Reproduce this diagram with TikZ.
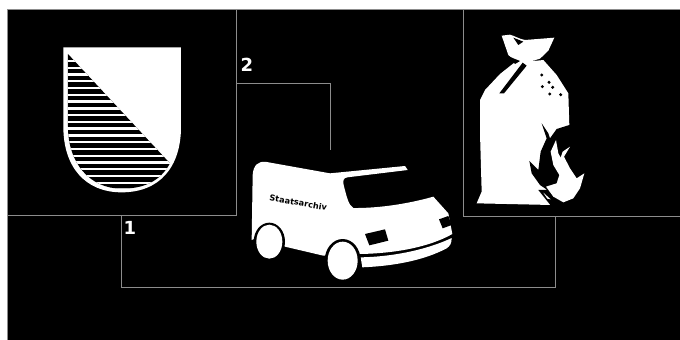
\documentclass[tikz,border=0pt]{standalone}
\usepackage{fontspec}
\setmainfont{DejaVu Sans}
\usepackage{tikz}
\usepackage{xcolor}
\definecolor{wiregray}{HTML}{8C8C8C}

\begin{document}
\begin{tikzpicture}[x=1pt,y=-1pt,
  panel/.style={draw=wiregray,line width=1pt,fill=black,outer sep=0pt,inner sep=0pt},
  wire/.style={draw=wiregray,line width=1pt},
  numlabel/.style={text=white,font=\fontsize{18}{18}\selectfont\bfseries},
  cutout/.style={fill=black},
  solid white/.style={fill=white}]
\useasboundingbox (0,0) rectangle (680,340);
\fill[white] (0,0) rectangle (680,340);
\draw[wire,fill=black] (7,340) -- (7,9) -- (680,9) -- (680,340) -- cycle;

% Boxes
\node[panel,minimum width=229pt,minimum height=206pt] (cantonbox) at (121.5,112) {};
\node[panel,minimum width=217pt,minimum height=207pt] (bagbox) at (571.5,112.5) {};

% Connectors
\coordinate (turnone) at (121,287);
\coordinate (turntwo) at (555,287);
\coordinate (turnthree) at (330,83);
\coordinate (vantop) at (330,150);
\draw[wire] (cantonbox.south -| turnone) -- (turnone) -- (turntwo) -- (bagbox.south -| turntwo);
\draw[wire] (cantonbox.east |- turnthree) -- (turnthree) -- (vantop);

% Numbers
\node[numlabel] (numone) at (130,228) {1};
\node[numlabel] (numtwo) at (247,65) {2};

% Shield
\begin{scope}[scale=1/3]
\fill[solid white] (190,142) -- (543,142) -- (543,380)
  .. controls (543,500) and (480,577) .. (365,577)
  .. controls (255,577) and (190,500) .. (190,380) -- cycle;
\begin{scope}
\clip (204,162) -- (510,490)
  .. controls (480,545) and (430,566) .. (365,566)
  .. controls (270,566) and (204,490) .. (204,380) -- cycle;
\fill[cutout] (190,142) rectangle (543,577);
\foreach \y in {0,...,19}
  \fill[white] (190,{183+\y*20.3-3.5}) rectangle (543,{183+\y*20.3+3.5});
\end{scope}
\end{scope}

% Van
\begin{scope}[shift={(230,140)},scale=1/3]
\fill[solid white] (65,300) -- (68,105)
  .. controls (70,75) and (85,62) .. (110,66)
  -- (300,100) -- (525,78) -- (533,90) -- (352,112)
  .. controls (340,114) and (338,122) .. (341,135)
  .. controls (350,170) and (355,195) .. (370,204)
  .. controls (450,205) and (540,190) .. (610,170)
  -- (655,220) -- (667,282)
  .. controls (600,320) and (500,340) .. (390,342)
  -- (280,347) -- (165,320) -- (110,280) -- cycle;
\fill[solid white] (392,352)
  .. controls (500,350) and (600,325) .. (665,294)
  .. controls (665,310) and (660,318) .. (650,325)
  .. controls (580,362) and (490,378) .. (397,382) -- cycle;
% Wheels
\fill[cutout] (118,305) ellipse [x radius=47,y radius=57];
\fill[solid white] (118,305) ellipse [x radius=39,y radius=51];
\fill[cutout] (338,362) ellipse [x radius=54,y radius=65];
\fill[solid white] (338,362) ellipse [x radius=45,y radius=57];
% Plate and lamp
\fill[cutout] (405,282) -- (465,268) -- (475,302) -- (418,316) -- cycle;
\fill[cutout] (627,238) -- (655,228) -- (665,255) -- (638,265) -- cycle;
\node[rotate=-10,text=black,font=\fontsize{8.2}{9}\selectfont\bfseries,inner sep=0pt] (vanname) at (205,188) {Staatsarchiv};
\end{scope}

% Bag
\begin{scope}[shift={(460,0)},scale=1/3]
\fill[solid white] (125,107) -- (150,104)
  .. controls (165,108) and (175,116) .. (195,120)
  -- (283,113) -- (265,152) -- (240,176) -- (213,184) -- (250,180)
  -- (290,225) -- (325,280) -- (328,378)
  -- (330,610) -- (275,615) -- (50,610) -- (65,575) -- (60,400) -- (60,300)
  -- (75,270) -- (120,222) -- (168,184) -- (145,165) -- cycle;
% Neck fold and knot
\fill[cutout] (118,280) -- (132,280) -- (200,197) -- (188,188) -- cycle;
\fill[cutout] (160,113) -- (190,125) -- (175,135) -- cycle;
\fill[cutout] (148,170) -- (180,183) -- (165,192) -- cycle;
% Grains
\foreach \gx/\gy in {245/225,267/247,278/262,247/260,269/282,302/284}
  \fill[cutout] (\gx,\gy) circle [radius=5];
% Flame
\fill[cutout] (245,370) -- (265,400) -- (270,415) -- (290,387) -- (328,375)
  -- (345,378) -- (400,620) -- (275,620) -- (235,570) -- (262,570)
  -- (240,555) -- (215,520) -- (208,483) -- (235,510) -- (242,455)
  -- (260,415) -- cycle;
\fill[solid white] (288,420) -- (272,455) -- (280,495) -- (298,525) -- (290,550)
  -- (258,560) -- (280,590) -- (310,607) -- (340,595) -- (360,565) -- (373,520)
  -- (350,535) -- (330,505) -- (312,470) -- (330,440) -- (308,455) -- (302,473)
  -- (295,460) -- cycle;
\fill[solid white] (250,578) -- (272,598) -- (262,596) -- cycle;
\end{scope}
\end{tikzpicture}
\end{document}
